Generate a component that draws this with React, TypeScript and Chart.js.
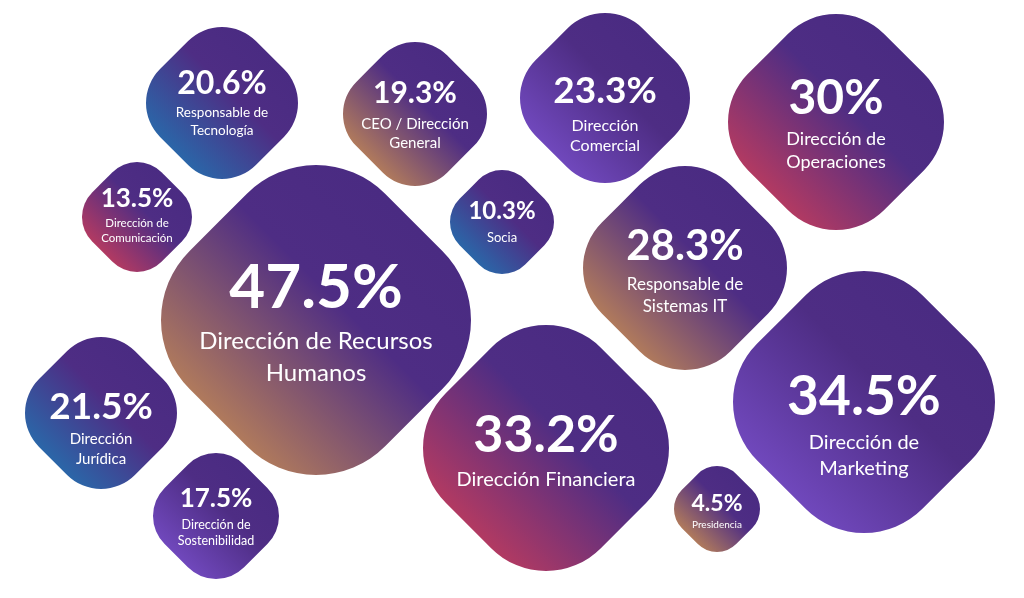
import { useEffect, useRef } from "react";
import { Chart, registerables } from "chart.js";

Chart.register(...registerables);

// ---- data ----
const values = [20.6, 19.3, 23.3, 30, 13.5, 10.3, 47.5, 28.3, 21.5, 34.5, 33.2, 17.5, 4.5];
const roles = [
  ["Responsable de", "Tecnología"],
  ["CEO / Dirección", "General"],
  ["Dirección", "Comercial"],
  ["Dirección de", "Operaciones"],
  ["Dirección de", "Comunicación"],
  ["Socia"],
  ["Dirección de Recursos", "Humanos"],
  ["Responsable de", "Sistemas IT"],
  ["Dirección", "Jurídica"],
  ["Dirección de", "Marketing"],
  ["Dirección Financiera"],
  ["Dirección de", "Sostenibilidad"],
  ["Presidencia"],
];

// ---- bubble layout (packed-bubble coordinates) ----
const posX = [222, 415, 605, 836, 137, 502, 316, 685, 101, 864, 546, 216, 717];
const posY = [103, 114, 98, 122, 217, 222, 320, 268, 413, 402, 448, 516, 509];
const bubbleR = [76, 72, 85, 108, 55, 52, 155, 102, 76, 131, 123, 63, 43];

// ---- styles ----
const accentKey = ["blue", "tan", "violet", "magenta", "magenta", "blue", "tan", "tan", "blue", "violet", "magenta", "violet", "tan"];
const accents: Record<string, string> = {
  blue: "#2b66a8",
  tan: "#b07a5c",
  violet: "#7048bc",
  magenta: "#b23a62",
};
const numFont = [32, 30, 37, 48, 26, 24, 62, 42, 37, 55, 52, 26, 23];
const labelFont = [13.5, 15, 16, 18, 11.5, 13, 24, 17, 15, 20, 20, 12.5, 10];
const textShift = [0, 1, 16, 2, -2, 0, 2, 3, 15, 23, 2, 1, 2];
const BASE = "#4a2b82";
const FONT = "Lato, 'Open Sans', sans-serif";

const W = 1024;
const H = 598;
// Chart.js reserves the largest bubble radius as padding around the chart area
const PAD = Math.max(...bubbleR);

function diamondPath(ctx: CanvasRenderingContext2D, cx: number, cy: number, e: number, c: number) {
  const h = e / (1 - c * (Math.SQRT2 - 1));
  const rc = c * h;
  const pts = [
    [cx, cy - h],
    [cx + h, cy],
    [cx, cy + h],
    [cx - h, cy],
  ];
  ctx.beginPath();
  ctx.moveTo((pts[3][0] + pts[0][0]) / 2, (pts[3][1] + pts[0][1]) / 2);
  for (let k = 0; k < 4; k++) {
    const p = pts[k];
    const n = pts[(k + 1) % 4];
    ctx.arcTo(p[0], p[1], n[0], n[1], rc);
  }
  ctx.closePath();
}

const diamondPlugin = {
  id: "diamonds",
  afterDatasetsDraw(chart: any) {
    const ctx: CanvasRenderingContext2D = chart.ctx;
    const meta = chart.getDatasetMeta(0);
    meta.data.forEach((el: any, i: number) => {
      const cx = el.x;
      const cy = el.y;
      const e = el.options.radius;
      ctx.save();
      diamondPath(ctx, cx, cy, e, 0.5);
      const d = e * 0.63;
      const g = ctx.createLinearGradient(cx + d, cy - d, cx - d, cy + d);
      g.addColorStop(0, BASE);
      g.addColorStop(0.4, "#4e2d84");
      g.addColorStop(1, accents[accentKey[i]]);
      ctx.fillStyle = g;
      ctx.fill();

      // text
      const nf = numFont[i];
      const lf = labelFont[i];
      const lines = roles[i];
      const numCap = nf * 0.72;
      const labCap = lf * 0.72;
      const gap = lf * 1.0;
      const lineH = lf * 1.3;
      const total = numCap + gap + (lines.length - 1) * lineH + labCap;
      const top = cy + textShift[i] - total / 2;
      ctx.fillStyle = "#ffffff";
      ctx.textAlign = "center";
      ctx.textBaseline = "alphabetic";
      ctx.font = `bold ${nf}px ${FONT}`;
      ctx.fillText(`${values[i]}%`, cx, top + numCap);
      ctx.font = `${lf}px ${FONT}`;
      lines.forEach((ln, j) => {
        ctx.fillText(ln, cx, top + numCap + gap + labCap + j * lineH);
      });
      ctx.restore();
    });
  },
};

export default function App() {
  const ref = useRef<HTMLCanvasElement | null>(null);
  useEffect(() => {
    if (!ref.current) return;
    const chart = new Chart(ref.current, {
      type: "bubble",
      data: {
        datasets: [
          {
            label: "Roles",
            data: values.map((v, i) => ({ x: posX[i], y: posY[i], r: bubbleR[i], v })),
            backgroundColor: "rgba(0,0,0,0)",
            borderWidth: 0,
            hoverRadius: 0,
            clip: false,
          },
        ],
      },
      options: {
        responsive: false,
        animation: false,
        devicePixelRatio: 1,
        layout: { padding: 0 },
        scales: {
          x: { type: "linear", min: PAD, max: W - PAD, display: false },
          y: { type: "linear", min: PAD, max: H - PAD, reverse: true, display: false },
        },
        plugins: {
          legend: { display: false },
          tooltip: { enabled: false },
        },
      } as any,
      plugins: [diamondPlugin],
    });
    return () => chart.destroy();
  }, []);
  return (
    <div style={{ position: "absolute", left: 0, top: 0, width: W, height: H, background: "#ffffff" }}>
      <canvas ref={ref} width={W} height={H} />
    </div>
  );
}
